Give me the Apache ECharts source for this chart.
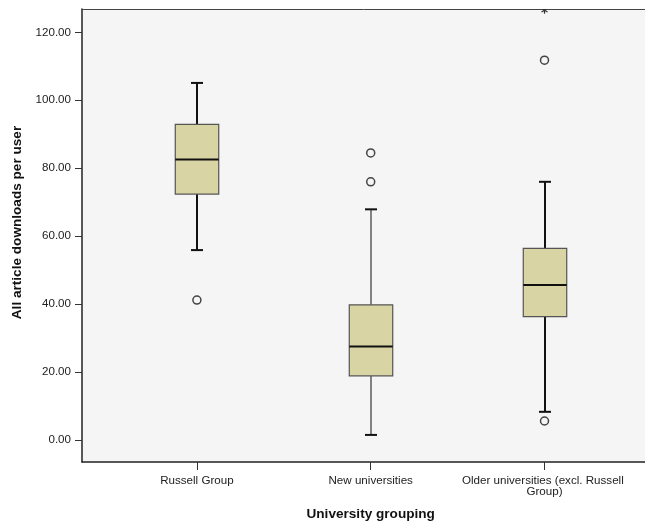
<!DOCTYPE html>
<html>
<head>
<meta charset="utf-8">
<script src="https://cdn.jsdelivr.net/npm/echarts@6/dist/echarts.min.js"></script>
<style>
  html, body { margin: 0; padding: 0; background: #ffffff; }
  #chart { width: 645px; height: 526px; }
</style>
</head>
<body>
<div id="chart"></div>
<script>
// University groupings on the category axis
const categories = ['Russell Group', 'New universities', 'Older universities (excl. Russell Group)'];

// Five-number summaries per grouping (downloads per user)
const whiskerLow  = [55.9, 1.5, 8.3];
const quartile1   = [72.4, 18.9, 36.3];
const medians     = [82.6, 27.5, 45.6];
const quartile3   = [92.9, 39.8, 56.4];
const whiskerHigh = [105.1, 67.9, 76.0];

// Outliers (circles) and extreme values (asterisks): [category index, value]
const outliers = [[0, 41.2], [1, 84.5], [1, 76.0], [2, 111.8], [2, 5.6]];
const extremes = [[2, 126.5]];

// Value-axis tick labels
const yTicks = [0, 20, 40, 60, 80, 100, 120];

const Y_MIN = -6.47, Y_MAX = 126.86;
const FONT = '"Liberation Sans", Arial, sans-serif';

const boxData = categories.map((c, i) => [i, whiskerLow[i], quartile1[i], medians[i], quartile3[i], whiskerHigh[i]]);
const whiskerWidths = [2, 1, 2];

function renderBox(params, api) {
  const i = api.value(0);
  const band = api.size([1, 0])[0];
  const boxW = band * 0.25;
  const capW = 12;
  const pLow = api.coord([i, api.value(1)]);
  const pQ1 = api.coord([i, api.value(2)]);
  const pMed = api.coord([i, api.value(3)]);
  const pQ3 = api.coord([i, api.value(4)]);
  const pHigh = api.coord([i, api.value(5)]);
  const x = Math.round(pMed[0]);
  const lw = whiskerWidths[i];
  const line = (x1, y1, x2, y2, w, color) => ({
    type: 'line',
    shape: { x1, y1, x2, y2 },
    style: { stroke: color, lineWidth: w }
  });
  return {
    type: 'group',
    children: [
      line(x, pHigh[1], x, pQ3[1], lw, '#111'),
      line(x, pQ1[1], x, pLow[1], lw, '#111'),
      line(x - capW / 2, pHigh[1], x + capW / 2, pHigh[1], 2, '#111'),
      line(x - capW / 2, pLow[1], x + capW / 2, pLow[1], 2, '#111'),
      {
        type: 'rect',
        shape: { x: x - boxW / 2, y: pQ3[1], width: boxW, height: pQ1[1] - pQ3[1] },
        style: { fill: '#d9d4a3', stroke: '#555555', lineWidth: 1.2 }
      },
      line(x - boxW / 2, pMed[1], x + boxW / 2, pMed[1], 2, '#111')
    ]
  };
}

// Asterisk marker for extreme values, clipped to the plot frame
function renderExtreme(params, api) {
  const p = api.coord([api.value(0), api.value(1)]);
  const r = 3.5;
  const dx = r * 0.866, dy = r * 0.5;
  const seg = (x1, y1, x2, y2) => ({
    type: 'line',
    shape: { x1: p[0] + x1, y1: p[1] + y1, x2: p[0] + x2, y2: p[1] + y2 },
    style: { stroke: '#333', lineWidth: 1.2 }
  });
  return {
    type: 'group',
    children: [seg(0, -r, 0, r), seg(-dx, -dy, dx, dy), seg(-dx, dy, dx, -dy)]
  };
}

const chart = echarts.init(document.getElementById('chart'), null, { renderer: 'canvas' });

chart.setOption({
  animation: false,
  backgroundColor: '#ffffff',
  grid: [
    // frame with shaded plot area
    { left: 82, right: 0, top: 9, bottom: 64, show: true, backgroundColor: '#f5f5f5', borderWidth: 0 },
    // data area holding the category bands
    { left: 110, right: 13.6, top: 9, bottom: 64 }
  ],
  xAxis: [
    {
      gridIndex: 0, type: 'value', min: 0, max: 1, position: 'bottom',
      axisLine: { show: true, onZero: false, lineStyle: { color: '#222', width: 1.5 } },
      axisTick: { show: false }, axisLabel: { show: false }, splitLine: { show: false }
    },
    {
      gridIndex: 0, type: 'value', min: 0, max: 1, position: 'top',
      axisLine: { show: true, onZero: false, lineStyle: { color: '#444', width: 1 } },
      axisTick: { show: false }, axisLabel: { show: false }, splitLine: { show: false }
    },
    {
      gridIndex: 1, type: 'category', data: categories, boundaryGap: true, position: 'bottom',
      axisLine: { show: false, onZero: false },
      axisTick: { show: true, alignWithLabel: true, length: 8, lineStyle: { color: '#333', width: 1 } },
      axisLabel: {
        interval: 0, margin: 13, fontSize: 11.6, color: '#222', fontFamily: FONT,
        width: 172, overflow: 'break', lineHeight: 11, align: 'center'
      },
      name: 'University grouping', nameLocation: 'middle', nameGap: 45,
      nameTextStyle: { fontSize: 13.6, fontWeight: 'bold', color: '#111', fontFamily: FONT }
    }
  ],
  yAxis: [
    {
      gridIndex: 0, type: 'value', min: Y_MIN, max: Y_MAX,
      axisLine: { show: true, onZero: false, lineStyle: { color: '#222', width: 1.5 } },
      axisTick: { show: true, length: 7, customValues: yTicks, lineStyle: { color: '#333' } },
      axisLabel: {
        customValues: yTicks, margin: 11, fontSize: 11.6, color: '#222', fontFamily: FONT,
        formatter: v => v.toFixed(2)
      },
      splitLine: { show: false },
      name: 'All article downloads per user', nameLocation: 'middle', nameGap: 53,
      nameTextStyle: { fontSize: 13.6, fontWeight: 'bold', color: '#111', fontFamily: FONT, padding: [0, 0, 0, 26] }
    },
    {
      gridIndex: 1, type: 'value', min: Y_MIN, max: Y_MAX, show: false,
      splitLine: { show: false }
    }
  ],
  series: [
    {
      type: 'custom', xAxisIndex: 2, yAxisIndex: 1, clip: true,
      renderItem: renderBox,
      encode: { x: 0, y: [1, 2, 3, 4, 5] },
      data: boxData
    },
    {
      type: 'scatter', xAxisIndex: 2, yAxisIndex: 1,
      symbol: 'circle', symbolSize: 8,
      itemStyle: { color: '#f5f5f5', borderColor: '#444', borderWidth: 1.5, opacity: 1 },
      data: outliers
    },
    {
      type: 'custom', xAxisIndex: 2, yAxisIndex: 1, clip: true,
      renderItem: renderExtreme,
      encode: { x: 0, y: 1 },
      data: extremes
    }
  ]
});
</script>
</body>
</html>
